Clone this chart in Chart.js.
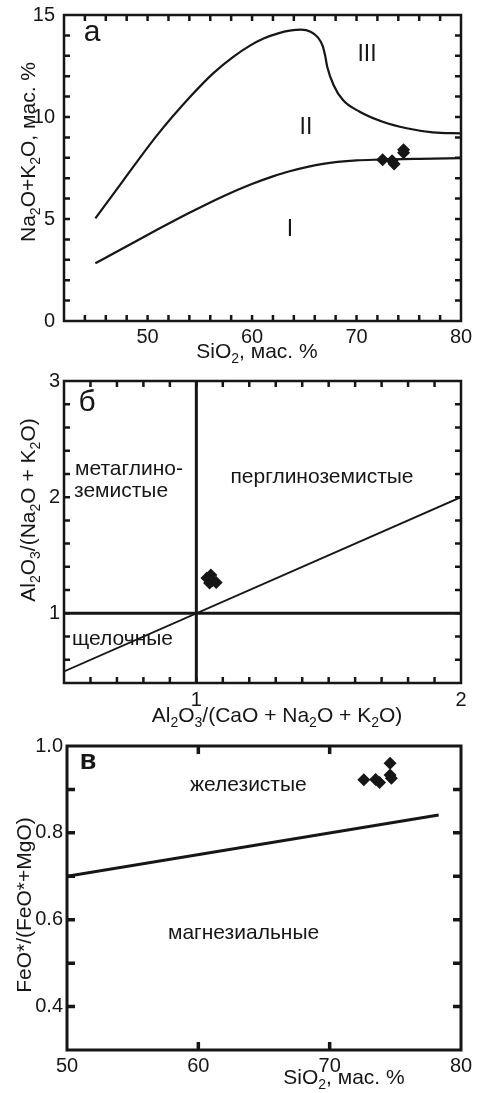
<!DOCTYPE html>
<html>
<head>
<meta charset="utf-8">
<script src="https://cdn.jsdelivr.net/npm/chart.js@4.4.1/dist/chart.umd.min.js"></script>
<style>
  html, body { margin: 0; padding: 0; background: #fff; }
  #wrap { position: relative; width: 479px; height: 1093px; }
  #wrap canvas { position: absolute; left: 0; top: 0; }
</style>
</head>
<body>
<div id="wrap">
  <canvas id="chartA" width="479" height="1093"></canvas>
  <canvas id="chartB" width="479" height="1093"></canvas>
  <canvas id="chartV" width="479" height="1093"></canvas>
</div>
<script>
(() => {
  const FONT = '"Liberation Sans", Arial, sans-serif';
  const INK = '#161616';
  const W = 479, H = 1093;

  // ---------- а: Na2O+K2O vs SiO2 ----------
  const A_UPPER_X = [45, 47.7, 50.9, 54.1, 56.3, 58.2, 59.8, 61.1, 62.5, 63.6, 64.7, 65.6, 66.3, 66.75, 67.0, 67.2, 67.8, 68.7, 70.3, 72.5, 74.8, 77.3, 80];
  const A_UPPER_Y = [5.03, 6.91, 9.1, 11.0, 12.15, 12.95, 13.5, 13.85, 14.1, 14.23, 14.28, 14.18, 13.9, 13.5, 13.0, 12.45, 11.57, 10.83, 10.26, 9.77, 9.45, 9.25, 9.2];
  const A_LOWER_X = [45, 47.7, 50.9, 54.1, 57.25, 59.8, 62, 63.6, 66.8, 70, 72.2, 76, 80];
  const A_LOWER_Y = [2.83, 3.58, 4.47, 5.33, 6.12, 6.68, 7.09, 7.34, 7.7, 7.87, 7.91, 7.95, 7.98];
  const A_SAMPLE_X = [72.5, 73.4, 73.6, 74.5, 74.5];
  const A_SAMPLE_Y = [7.9, 7.85, 7.7, 8.25, 8.4];
  const A_X_LABELS = [50, 60, 70, 80];
  const A_Y_LABELS = [0, 5, 10, 15];

  // ---------- б: A/NK vs A/CNK ----------
  const B_VERT_X = [1, 1];
  const B_VERT_Y = [0.4, 3];
  const B_HORIZ_X = [0.5, 2];
  const B_HORIZ_Y = [1, 1];
  const B_DIAG_X = [0.5, 2];
  const B_DIAG_Y = [0.5, 2];
  const B_SAMPLE_X = [1.04, 1.055, 1.06, 1.075, 1.05];
  const B_SAMPLE_Y = [1.305, 1.33, 1.28, 1.265, 1.26];
  const B_X_LABELS = [1, 2];
  const B_Y_LABELS = [1, 2, 3];

  // ---------- в: FeO*/(FeO*+MgO) vs SiO2 ----------
  const V_LINE_X = [50, 78.3];
  const V_LINE_Y = [0.70, 0.841];
  const V_SAMPLE_X = [72.6, 73.5, 73.8, 74.6, 74.6, 74.7];
  const V_SAMPLE_Y = [0.922, 0.923, 0.916, 0.96, 0.933, 0.926];
  const V_X_LABELS = [50, 60, 70, 80];
  const V_Y_LABELS = [0.4, 0.6, 0.8, 1.0];

  function xy(xs, ys) {
    return xs.map((x, i) => ({ x, y: ys[i] }));
  }

  // tick mark positions only (not data)
  function marks(from, to, step) {
    const out = [];
    for (let v = from; v <= to + step / 2; v += step) out.push(+v.toFixed(4));
    return out;
  }

  function curve(xs, ys, width) {
    return {
      data: xy(xs, ys), showLine: true, borderColor: INK, borderWidth: width, fill: false,
      pointRadius: 0, cubicInterpolationMode: 'monotone', borderJoinStyle: 'round'
    };
  }

  function straight(xs, ys, width) {
    return { data: xy(xs, ys), showLine: true, borderColor: INK, borderWidth: width, pointRadius: 0, tension: 0, fill: false };
  }

  function samples(xs, ys) {
    return {
      data: xy(xs, ys), showLine: false, pointStyle: 'rectRot', pointRadius: 6.5,
      backgroundColor: INK, borderColor: INK, borderWidth: 0
    };
  }

  // text with "_x" = subscript x
  function drawRich(ctx, str, cx, cy, size, angle) {
    const parts = [];
    for (let i = 0; i < str.length; i++) {
      if (str[i] === '_') { parts.push({ t: str[i + 1], sub: true }); i++; }
      else parts.push({ t: str[i], sub: false });
    }
    const mainFont = size + 'px ' + FONT;
    const subFont = Math.round(size * 0.68) + 'px ' + FONT;
    let total = 0;
    parts.forEach(p => { ctx.font = p.sub ? subFont : mainFont; p.w = ctx.measureText(p.t).width; total += p.w; });
    ctx.save();
    ctx.translate(cx, cy);
    ctx.rotate(angle);
    ctx.textAlign = 'left';
    ctx.textBaseline = 'middle';
    let x = -total / 2;
    parts.forEach(p => {
      ctx.font = p.sub ? subFont : mainFont;
      ctx.fillText(p.t, x, p.sub ? size * 0.32 : 0);
      x += p.w;
    });
    ctx.restore();
  }

  function decor(spec) {
    return {
      id: 'decor',
      afterDatasetsDraw(chart) {
        const ctx = chart.ctx;
        const { left, right, top, bottom } = chart.chartArea;
        const xs = chart.scales.x, ys = chart.scales.y;
        ctx.save();
        ctx.strokeStyle = INK;
        ctx.fillStyle = INK;

        // inward ticks
        ctx.lineWidth = spec.tickWidth;
        ctx.beginPath();
        spec.xMarks.forEach(v => {
          const px = xs.getPixelForValue(v);
          ctx.moveTo(px, bottom); ctx.lineTo(px, bottom - spec.tickLen);
          ctx.moveTo(px, top); ctx.lineTo(px, top + spec.tickLen);
        });
        spec.yMarks.forEach(v => {
          const py = ys.getPixelForValue(v);
          ctx.moveTo(left, py); ctx.lineTo(left + spec.tickLen, py);
          ctx.moveTo(right, py); ctx.lineTo(right - spec.tickLen, py);
        });
        ctx.stroke();

        // frame
        ctx.lineWidth = spec.frameWidth;
        ctx.strokeRect(left, top, right - left, bottom - top);

        // tick labels
        ctx.font = spec.tickSize + 'px ' + FONT;
        ctx.textBaseline = 'middle';
        ctx.textAlign = 'center';
        spec.xLabels.forEach(v => ctx.fillText(v.toFixed(spec.xDigits), xs.getPixelForValue(v), spec.xLabelY));
        ctx.textAlign = 'right';
        spec.yLabels.forEach(v => ctx.fillText(v.toFixed(spec.yDigits), spec.yLabelX, ys.getPixelForValue(v)));

        // axis titles
        drawRich(ctx, spec.xTitle, spec.xTitleAt[0], spec.xTitleAt[1], spec.titleSize, 0);
        drawRich(ctx, spec.yTitle, spec.yTitleAt[0], spec.yTitleAt[1], spec.titleSize, -Math.PI / 2);

        // labels inside the plot
        spec.notes.forEach(n => {
          ctx.font = (n.bold ? 'bold ' : '') + n.size + 'px ' + FONT;
          ctx.textAlign = n.align || 'center';
          ctx.textBaseline = n.base || 'middle';
          ctx.fillText(n.text, n.x, n.y);
        });
        ctx.restore();
      }
    };
  }

  function makeChart(id, area, xr, yr, datasets, spec) {
    return new Chart(document.getElementById(id), {
      type: 'line',
      data: { datasets },
      options: {
        responsive: false,
        animation: false,
        events: [],
        layout: { padding: { left: area.left, top: area.top, right: W - area.right, bottom: H - area.bottom } },
        plugins: { legend: { display: false }, tooltip: { enabled: false } },
        scales: {
          x: { type: 'linear', min: xr[0], max: xr[1], display: false },
          y: { type: 'linear', min: yr[0], max: yr[1], display: false }
        }
      },
      plugins: [decor(spec)]
    });
  }

  // а
  makeChart('chartA', { left: 64, top: 15, right: 461, bottom: 321 }, [42, 80], [0, 15], [
    curve(A_UPPER_X, A_UPPER_Y, 2.2),
    curve(A_LOWER_X, A_LOWER_Y, 2.2),
    samples(A_SAMPLE_X, A_SAMPLE_Y)
  ], {
    xMarks: marks(44, 78, 2), yMarks: marks(1, 14, 1), tickLen: 6, tickWidth: 2.5, frameWidth: 2.5,
    tickSize: 20, xDigits: 0, yDigits: 0,
    xLabels: A_X_LABELS, xLabelY: 337, yLabels: A_Y_LABELS, yLabelX: 55,
    titleSize: 21,
    xTitle: 'SiO_2, мас. %', xTitleAt: [257, 352],
    yTitle: 'Na_2O+K_2O, мас. %', yTitleAt: [29, 152],
    notes: [
      { text: 'а', x: 92, y: 33, size: 30 },
      { text: 'III', x: 367, y: 55, size: 23 },
      { text: 'II', x: 306, y: 128, size: 23 },
      { text: 'I', x: 290, y: 230, size: 23 }
    ]
  });

  // б
  makeChart('chartB', { left: 64, top: 381, right: 461, bottom: 683 }, [0.5, 2], [0.4, 3], [
    straight(B_VERT_X, B_VERT_Y, 3),
    straight(B_HORIZ_X, B_HORIZ_Y, 3),
    straight(B_DIAG_X, B_DIAG_Y, 1.8),
    samples(B_SAMPLE_X, B_SAMPLE_Y)
  ], {
    xMarks: marks(0.6, 1.9, 0.1), yMarks: marks(0.6, 2.8, 0.2), tickLen: 6, tickWidth: 2.5, frameWidth: 2.5,
    tickSize: 20, xDigits: 0, yDigits: 0,
    xLabels: B_X_LABELS, xLabelY: 700, yLabels: B_Y_LABELS, yLabelX: 60,
    titleSize: 21,
    xTitle: 'Al_2O_3/(CaO + Na_2O + K_2O)', xTitleAt: [277, 716],
    yTitle: 'Al_2O_3/(Na_2O + K_2O)', yTitleAt: [29, 510],
    notes: [
      { text: 'б', x: 87, y: 403, size: 30 },
      { text: 'метаглино-', x: 75, y: 475, size: 21, align: 'left', base: 'alphabetic' },
      { text: 'земистые', x: 74, y: 497, size: 21, align: 'left', base: 'alphabetic' },
      { text: 'перглиноземистые', x: 322, y: 483, size: 21, base: 'alphabetic' },
      { text: 'щелочные', x: 72, y: 645, size: 21, align: 'left', base: 'alphabetic' }
    ]
  });

  // в
  makeChart('chartV', { left: 67, top: 746, right: 461, bottom: 1050 }, [50, 80], [0.3, 1.0], [
    straight(V_LINE_X, V_LINE_Y, 3),
    samples(V_SAMPLE_X, V_SAMPLE_Y)
  ], {
    xMarks: [60, 70], yMarks: marks(0.4, 0.9, 0.1), tickLen: 8, tickWidth: 3.5, frameWidth: 3,
    tickSize: 20, xDigits: 0, yDigits: 1,
    xLabels: V_X_LABELS, xLabelY: 1066, yLabels: V_Y_LABELS, yLabelX: 63,
    titleSize: 21,
    xTitle: 'SiO_2, мас. %', xTitleAt: [344, 1078],
    yTitle: 'FeO*/(FeO*+MgO)', yTitleAt: [25, 905],
    notes: [
      { text: 'в', x: 88, y: 762, size: 27, bold: true },
      { text: 'железистые', x: 190, y: 791, size: 21, align: 'left', base: 'alphabetic' },
      { text: 'магнезиальные', x: 168, y: 939, size: 21, align: 'left', base: 'alphabetic' }
    ]
  });
})();
</script>
</body>
</html>
